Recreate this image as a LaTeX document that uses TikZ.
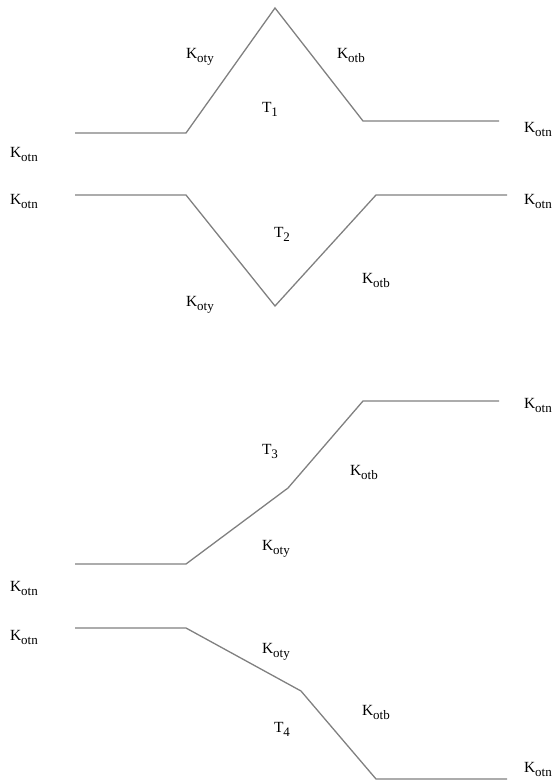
\documentclass[tikz,border=0pt]{standalone}
\usepackage{fontspec}
\setmainfont{Liberation Serif}
\definecolor{linegray}{HTML}{808080}
\newcommand{\Kx}[1]{K\raisebox{-4pt}{\fontsize{13}{13}\selectfont #1}}
\newcommand{\Tx}[1]{T\raisebox{-4pt}{\fontsize{13}{13}\selectfont #1}}
\begin{document}
\begin{tikzpicture}[x=1pt,y=-1pt,
  lbl/.style={anchor=base west,inner sep=0pt,outer sep=0pt,font=\fontsize{15.5}{15.5}\selectfont},
  trend/.style={draw=linegray,line width=1.3pt,line join=miter}]
\useasboundingbox (0,0) rectangle (558,782);
% ---------- T1 ----------
\coordinate (a1) at (75,133);
\coordinate (a2) at (186,133);
\coordinate (a3) at (275,8);
\coordinate (a4) at (363,121);
\coordinate (a5) at (499,121);
\draw[trend] (a1) -- (a2) -- (a3) -- (a4) -- (a5);
\node[lbl] (t1oty) at (186,58) {\Kx{oty}};
\node[lbl] (t1otb) at (337,58) {\Kx{otb}};
\node[lbl] (t1) at (262,112) {\Tx{1}};
\node[lbl] (t1l) at (10,157) {\Kx{otn}};
\node[lbl] (t1r) at (524,132) {\Kx{otn}};
% ---------- T2 ----------
\coordinate (b1) at (75,195);
\coordinate (b2) at (186,195);
\coordinate (b3) at (275,306);
\coordinate (b4) at (376,195);
\coordinate (b5) at (507,195);
\draw[trend] (b1) -- (b2) -- (b3) -- (b4) -- (b5);
\node[lbl] (t2l) at (10,204) {\Kx{otn}};
\node[lbl] (t2r) at (524,204) {\Kx{otn}};
\node[lbl] (t2) at (274,237) {\Tx{2}};
\node[lbl] (t2otb) at (362,283) {\Kx{otb}};
\node[lbl] (t2oty) at (186,306) {\Kx{oty}};
% ---------- T3 ----------
\coordinate (c1) at (75,564);
\coordinate (c2) at (186,564);
\coordinate (c3) at (288,488);
\coordinate (c4) at (363,401);
\coordinate (c5) at (499,401);
\draw[trend] (c1) -- (c2) -- (c3) -- (c4) -- (c5);
\node[lbl] (t3r) at (524,408) {\Kx{otn}};
\node[lbl] (t3) at (262,454) {\Tx{3}};
\node[lbl] (t3otb) at (350,475) {\Kx{otb}};
\node[lbl] (t3oty) at (262,550) {\Kx{oty}};
\node[lbl] (t3l) at (10,591) {\Kx{otn}};
% ---------- T4 ----------
\coordinate (d1) at (75,628);
\coordinate (d2) at (186,628);
\coordinate (d3) at (301,691);
\coordinate (d4) at (376,779);
\coordinate (d5) at (507,779);
\draw[trend] (d1) -- (d2) -- (d3) -- (d4) -- (d5);
\node[lbl] (t4l) at (10,640) {\Kx{otn}};
\node[lbl] (t4oty) at (262,653) {\Kx{oty}};
\node[lbl] (t4otb) at (362,715) {\Kx{otb}};
\node[lbl] (t4) at (274,732) {\Tx{4}};
\node[lbl] (t4r) at (524,772) {\Kx{otn}};
\end{tikzpicture}
\end{document}
